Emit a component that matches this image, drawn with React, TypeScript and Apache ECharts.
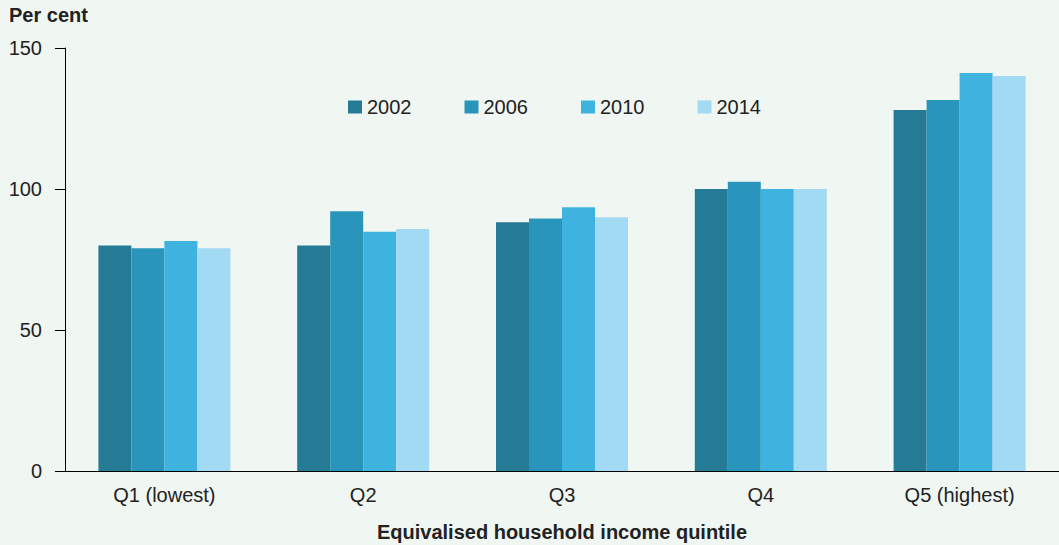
import React, { useEffect, useRef } from "react";
import * as echarts from "echarts";

const categories = ["Q1 (lowest)", "Q2", "Q3", "Q4", "Q5 (highest)"];
const years = ["2002", "2006", "2010", "2014"];
const values2002 = [80, 80, 88.2, 100, 128];
const values2006 = [79, 92.1, 89.5, 102.6, 131.6];
const values2010 = [81.6, 84.8, 93.5, 100, 141.1];
const values2014 = [79, 85.8, 90, 100, 140.1];
const colors = ["#257a96", "#2a95bb", "#3fb3df", "#a3daf3"];
const yTicks = [0, 50, 100, 150];

const FONT = "Arial, 'Liberation Sans', sans-serif";

export default function App() {
  const ref = useRef<HTMLDivElement>(null);
  useEffect(() => {
    if (!ref.current) return;
    const chart = echarts.init(ref.current, undefined, { renderer: "svg" });
    const seriesData = [values2002, values2006, values2010, values2014];
    chart.setOption({
      animation: false,
      backgroundColor: "#f0f6f2",
      textStyle: { fontFamily: FONT },
      grid: {
        left: 65,
        right: 0,
        top: 48,
        bottom: 74,
        containLabel: false,
        outerBoundsMode: "none",
      },
      legend: {
        left: 348,
        top: 97,
        padding: 0,
        itemWidth: 14,
        itemHeight: 13,
        itemGap: 53,
        icon: "rect",
        textStyle: { fontSize: 20, color: "#222", fontFamily: FONT },
        data: years,
      },
      graphic: [
        {
          type: "text",
          left: 9,
          top: 5,
          style: { text: "Per cent", font: `bold 20px ${FONT}`, fill: "#222" },
        },
      ],
      xAxis: {
        type: "category",
        data: categories,
        axisLine: { lineStyle: { color: "#000", width: 1 } },
        axisTick: { show: false },
        axisLabel: { fontSize: 20, color: "#222", margin: 14, fontFamily: FONT },
        name: "Equivalised household income quintile",
        nameLocation: "middle",
        nameGap: 51,
        nameTextStyle: { fontSize: 20, fontWeight: "bold", color: "#222", fontFamily: FONT },
      },
      yAxis: {
        type: "value",
        min: yTicks[0],
        max: yTicks[yTicks.length - 1],
        interval: 50,
        axisLine: { show: true, lineStyle: { color: "#000", width: 1 } },
        axisTick: { show: true, length: 10, lineStyle: { color: "#000" } },
        splitLine: { show: false },
        axisLabel: { fontSize: 20, color: "#222", margin: 23, fontFamily: FONT },
      },
      series: years.map((y, i) => ({
        name: y,
        type: "bar",
        data: seriesData[i],
        barWidth: 33,
        barGap: "0%",
        barCategoryGap: "34%",
        itemStyle: { color: colors[i] },
      })),
    });
    return () => chart.dispose();
  }, []);
  return (
    <div
      ref={ref}
      style={{ position: "fixed", left: 0, top: 0, width: 1059, height: 545 }}
    />
  );
}
